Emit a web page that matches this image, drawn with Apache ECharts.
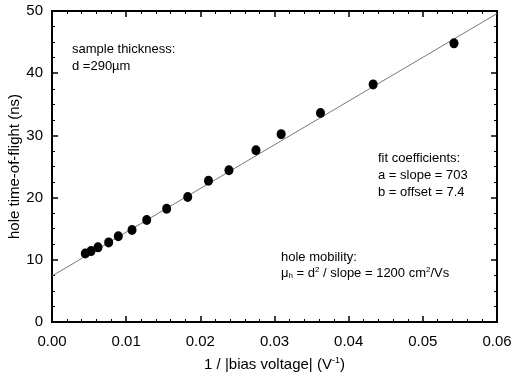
<!DOCTYPE html>
<html>
<head>
<meta charset="utf-8">
<script src="https://cdn.jsdelivr.net/npm/echarts@6/dist/echarts.min.js"></script>
<style>html,body{margin:0;padding:0;background:#fff;}#c{width:511px;height:376px;}</style>
</head>
<body>
<div id="c"></div>
<script>
const invVoltage = [0.00449, 0.00526, 0.0062, 0.00764, 0.00894, 0.01079, 0.01277, 0.01546, 0.0183, 0.0211, 0.02386, 0.0275, 0.0309, 0.0362, 0.0433, 0.0542];
const timeOfFlight = [11.0, 11.4, 12.0, 12.8, 13.8, 14.8, 16.4, 18.2, 20.1, 22.7, 24.4, 27.6, 30.2, 33.6, 38.2, 44.8];
const fitX = [0, 0.06];
const fitY = [7.4, 49.58];
const xTicks = ['0.00','0.01','0.02','0.03','0.04','0.05','0.06'];
const yTicks = ['0','10','20','30','40','50'];

const FONT = '"Liberation Sans", Arial, sans-serif';
const chart = echarts.init(document.getElementById('c'), null, {renderer:'canvas'});
function mk(extra, split){
  return Object.assign({
    type:'value',
    axisLine:{show:true, onZero:false, lineStyle:{color:'#000', width:2}},
    axisTick:{show:true, inside:true, length:6, lineStyle:{color:'#000', width:1.5}},
    minorTick:{show:true, splitNumber:split, length:3, lineStyle:{color:'#000', width:1}},
    splitLine:{show:false}
  }, extra);
}
chart.setOption({
  animation:false,
  backgroundColor:'#fff',
  grid:{left:52, right:14, top:11, bottom:54, containLabel:false, outerBoundsMode:'none',
    show:true, borderColor:'#000', borderWidth:2, backgroundColor:'transparent'},
  xAxis:[
    mk({min:0, max:0.06, interval:0.01, position:'bottom',
      axisLabel:{color:'#000', fontFamily:FONT, fontSize:15, margin:12,
        formatter:(v)=>xTicks[Math.round(v/0.01)]},
      name:'{n|1 / |bias voltage| (V}{s|-1}{n|)}', nameLocation:'middle', nameGap:34, nameMoveOverlap:false,
      nameTextStyle:{rich:{n:{fontFamily:FONT, fontSize:15, color:'#000'}, s:{fontFamily:FONT, fontSize:9, color:'#000', verticalAlign:'top', padding:[0,0,8,0]}}}
    }, 5),
    mk({min:0, max:0.06, interval:0.01, position:'top', axisLabel:{show:false}}, 5)
  ],
  yAxis:[
    mk({min:0, max:50, interval:10, position:'left',
      axisLabel:{color:'#000', fontFamily:FONT, fontSize:15, margin:9,
        formatter:(v)=>yTicks[Math.round(v/10)]},
      name:'hole time-of-flight (ns)', nameLocation:'middle', nameGap:30, nameMoveOverlap:false,
      nameTextStyle:{fontFamily:FONT, fontSize:15, color:'#000'}
    }, 4),
    mk({min:0, max:50, interval:10, position:'right', axisLabel:{show:false}}, 4)
  ],
  series:[
    {type:'line', data:fitX.map((x,i)=>[x, fitY[i]]), showSymbol:false, symbol:'none',
      lineStyle:{color:'#777', width:1}, silent:true, z:1},
    {type:'scatter', data:invVoltage.map((x,i)=>[x, timeOfFlight[i]]), symbol:'circle', symbolSize:[9,10],
      itemStyle:{color:'#000', opacity:1}, z:3},
    {type:'scatter', xAxisIndex:1, yAxisIndex:1, data:[], silent:true}
  ],
  graphic:[
    {type:'text', left:72, top:41, style:{text:'sample thickness:\nd =290µm', font:'13px '+FONT, fill:'#000', lineHeight:17}},
    {type:'text', left:378, top:150, style:{text:'fit coefficients:\na = slope = 703\nb = offset = 7.4', font:'13px '+FONT, fill:'#000', lineHeight:17}},
    {type:'text', left:281, top:251, style:{text:'hole mobility:', font:'13px '+FONT, fill:'#000'}},
    {type:'text', left:281, top:266, style:{
      text:'{n|μ}{sub|h}{n| = d}{sup|2}{n| / slope = 1200 cm}{sup|2}{n|/Vs}',
      rich:{
        n:{fontFamily:FONT, fontSize:13, fill:'#000', color:'#000'},
        sub:{fontFamily:FONT, fontSize:8, fill:'#000', color:'#000', verticalAlign:'bottom', padding:[6,0,0,0]},
        sup:{fontFamily:FONT, fontSize:8, fill:'#000', color:'#000', verticalAlign:'top', padding:[0,0,6,0]}
      }}}
  ]
});
</script>
</body>
</html>
